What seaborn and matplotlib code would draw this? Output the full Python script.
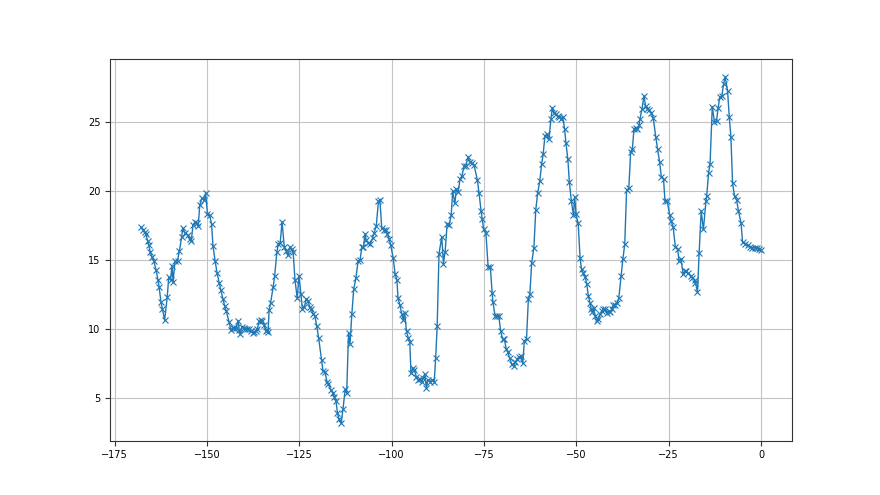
import matplotlib
matplotlib.use("Agg")
import matplotlib.pyplot as plt
import seaborn as sns
import pandas as pd

# hours before now
hours = [
    -167.9, -167.3, -166.9, -166.6, -166.1, -165.8, -165.4, -164.9, -164.4, -163.8,
    -163.3, -163.0, -162.5, -162.1, -161.5, -160.8, -160.4, -159.9, -159.5, -159.2,
    -158.7, -158.0, -157.5, -156.9, -156.6, -156.0, -155.3, -154.6, -154.3, -153.8,
    -153.3, -152.8, -152.4, -152.0, -151.4, -150.8, -150.4, -149.9, -149.3, -148.8,
    -148.4, -147.8, -147.3, -146.7, -146.3, -145.7, -145.2, -144.8, -144.0,
    -143.6, -143.1, -142.7, -142.2, -141.6, -141.3, -141.05, -140.6, -140.1, -139.7,
    -139.1, -138.6, -138.2, -137.7, -137.3, -136.8, -136.4, -135.9, -135.5, -135.0,
    -134.6, -134.1, -133.8, -133.5, -133.2, -132.8, -132.1, -131.7, -131.1, -130.7,
    -130.2, -129.7, -129.1, -128.5, -128.1, -127.6, -127.1, -126.7, -126.2, -125.6,
    -125.1, -124.6, -124.2, -123.7, -123.1, -122.7, -122.2, -121.8, -121.3, -120.8,
    -120.3, -119.8, -119.0, -118.6, -118.1, -117.5, -117.2, -116.5, -116.0, -115.5,
    -115.1, -114.7, -114.25,
    -113.7, -113.2, -112.6, -112.2, -111.7, -111.3, -110.8, -110.3, -109.7, -109.1,
    -108.6, -108.1, -107.7, -107.2, -106.9, -106.3, -105.8, -105.2, -104.8, -104.2,
    -103.6, -103.2, -102.7, -102.1, -101.6, -101.2, -100.7, -100.3, -99.6, -99.1,
    -98.6, -98.3, -97.8, -97.3, -96.9, -96.5, -96.0, -95.5, -95.1, -94.8,
    -94.2, -93.9, -93.3, -92.8, -92.3, -91.9, -91.5, -91.1, -90.6, -90.2,
    -89.6, -89.1, -88.5, -88.1, -87.7, -87.2,
    -86.45, -86.0, -85.55, -85.0, -84.5, -83.9, -83.5, -82.9, -82.5, -82.0,
    -81.5, -81.0, -80.4, -80.0, -79.3, -78.9, -78.2, -77.7, -76.8, -76.35,
    -75.8, -75.5, -75.1, -74.5, -73.9, -73.3, -72.8, -72.6, -72.0, -71.5,
    -71.0, -70.5, -70.0, -69.5, -69.0, -68.6, -68.1, -67.5, -67.0, -66.5,
    -66.0, -65.4, -65.0, -64.5, -64.1, -63.5, -63.0, -62.6, -62.1, -61.5,
    -61.0, -60.5, -59.9, -59.4, -59.0,
    -58.5, -58.0, -57.4, -56.9, -56.5, -56.0, -55.6, -55.1, -54.6, -54.1,
    -53.7, -53.2, -52.8, -52.3, -51.9, -51.35, -50.8, -50.45, -50.1, -49.5,
    -49.0, -48.6, -48.1, -47.65, -47.2, -46.75, -46.3, -46.0, -45.7, -45.3,
    -44.9, -44.5, -44.05, -43.6, -43.1, -42.7, -42.25, -41.8, -41.25, -40.8,
    -40.4, -40.0, -39.45, -38.9, -38.5, -37.9, -37.4, -36.9, -36.4, -35.8,
    -35.3, -34.85, -34.4, -33.95, -33.5, -33.05,
    -32.8, -32.25, -31.7, -31.25, -30.8, -30.35, -29.7, -29.2, -28.5, -28.0,
    -27.45, -27.0, -26.4, -26.0, -25.4, -24.7, -24.3, -23.8, -23.2, -22.55,
    -22.2, -21.65, -21.1, -20.65, -20.2, -19.75, -19.0, -18.6, -18.0, -17.75,
    -17.2, -16.75, -16.2, -15.6, -14.9, -14.7, -14.2, -13.8, -13.2, -12.6,
    -12.05, -11.6, -11.15, -10.6, -10.15, -9.7, -9.05, -8.6, -8.15, -7.7,
    -7.15, -6.6, -6.1, -5.4, -5.0, -4.35, -3.6, -3.0, -2.35, -1.7,
    -1.1, -0.45, 0.0,
]

values = [
    17.37, 17.17, 17.0, 16.86, 16.38, 16.09, 15.56, 15.19, 14.88, 14.23,
    13.55, 13.02, 11.96, 11.43, 10.63, 12.29, 13.72, 13.55, 14.57, 13.4,
    14.88, 14.93, 15.65, 16.62, 17.29, 16.93, 16.81, 16.5, 16.33, 17.54,
    17.71, 17.66, 17.42, 18.94, 19.47, 19.3, 19.83, 18.29, 18.21, 17.61,
    15.97, 14.88, 14.03, 13.31, 12.83, 12.15, 11.62, 11.26, 10.46,
    9.9, 10.07, 10.05, 10.07, 10.58, 9.9, 9.59, 10.14, 10.07, 10.02,
    10.02, 10.0, 9.83, 9.73, 9.78, 9.81, 10.0, 10.56, 10.63, 10.56,
    10.31, 9.83, 9.9, 9.78, 11.33, 11.88, 13.04, 13.84, 15.56, 16.16,
    16.23, 17.75, 15.94, 15.63, 15.31, 15.94, 15.75, 15.58, 13.55, 12.22,
    13.86, 12.49, 11.45, 11.55, 12.17, 12.0, 11.59, 11.4, 11.09, 10.92,
    10.19, 9.35, 7.73, 6.93, 6.88, 6.14, 6.01, 5.6, 5.36, 5.07,
    4.76, 3.91, 3.45,
    3.16, 4.18, 5.63, 5.34, 9.69, 8.91, 11.06, 12.87, 13.67, 14.93,
    14.95, 15.89, 15.89, 16.88, 16.4, 16.21, 16.16, 16.57, 16.93, 17.42,
    19.23, 19.3, 17.29, 17.17, 17.13, 16.88, 16.5, 16.09, 15.12, 13.99,
    13.55, 12.22, 11.74, 11.09, 10.65, 11.14, 9.81, 9.32, 9.01, 6.79,
    7.15, 7.03, 6.5, 6.3, 6.35, 6.18, 6.4, 6.74, 5.7, 6.3,
    6.18, 6.3, 6.18, 7.87, 10.17, 15.43,
    16.67, 14.73, 15.56, 17.56, 17.49, 18.21, 19.98, 19.08, 20.1, 19.9,
    20.87, 21.06, 21.79, 21.79, 22.46, 22.08, 21.98, 21.84, 20.77, 19.81,
    18.53, 17.97, 17.2, 16.96, 14.49, 14.49, 12.56, 11.93, 10.92, 10.92,
    10.92, 9.83, 9.28, 9.23, 8.55, 8.33, 7.9, 7.42, 7.29, 7.58,
    7.83, 7.97, 8.02, 7.49, 9.11, 9.28, 12.13, 12.49, 14.78, 15.87,
    18.6, 19.81, 20.7, 21.96, 22.63,
    24.0, 24.08, 23.77, 25.17, 26.01, 25.6, 25.53, 25.41, 25.34, 25.22,
    25.36, 24.49, 23.43, 22.27, 20.63, 19.25, 18.21, 19.57, 18.28, 17.63,
    15.14, 14.3, 14.01, 13.77, 13.28, 12.36, 11.88, 11.45, 11.21, 11.52,
    10.92, 10.56, 10.72, 11.04, 11.28, 11.45, 11.4, 11.16, 11.28, 11.21,
    11.4, 11.69, 11.76, 11.88, 12.25, 13.82, 15.07, 16.11, 20.05, 20.17,
    22.8, 23.0, 24.44, 24.57, 24.49, 24.73,
    25.17, 25.89, 26.86, 26.14, 25.94, 25.85, 25.65, 25.29, 23.91, 23.0,
    22.08, 21.01, 20.87, 19.25, 19.25, 18.21, 17.78, 17.39, 15.94, 15.75,
    14.9, 15.07, 13.94, 14.18, 14.18, 14.01, 13.86, 13.7, 13.53, 13.33,
    12.66, 15.51, 18.53, 17.2, 19.25, 19.61, 21.3, 21.91, 26.09, 24.98,
    25.05, 26.01, 26.81, 26.86, 27.71, 28.26, 27.22, 25.36, 23.91, 20.53,
    19.61, 19.32, 18.53, 17.68, 16.28, 16.14, 16.04, 15.94, 15.87, 15.87,
    15.85, 15.8, 15.68,
]

df = pd.DataFrame({"hours": hours, "value": values})

sns.set_style("white")
fig, ax = plt.subplots(figsize=(8.8, 4.95), dpi=100)
sns.lineplot(data=df, x="hours", y="value", sort=False, estimator=None,
             marker="x", markersize=4.5, markeredgewidth=0.8,
             markeredgecolor="#1f77b4", markerfacecolor="#1f77b4",
             color="#1f77b4", linewidth=1.0, ax=ax)
ax.set_xlabel("")
ax.set_ylabel("")
ax.grid(True, color="#c4c4c4", linewidth=0.8)
for s in ax.spines.values():
    s.set_color("#333333")
    s.set_linewidth(0.8)
ax.tick_params(axis="both", labelsize=7, length=3.5, width=0.8, color="#333333",
               labelcolor="black", bottom=True, left=True)
ax.set_xticks([-175, -150, -125, -100, -75, -50, -25, 0])
ax.set_yticks([5, 10, 15, 20, 25])
plt.subplots_adjust(left=0.125, right=0.9, top=0.88, bottom=0.11)
plt.savefig("out.png", dpi=100)
